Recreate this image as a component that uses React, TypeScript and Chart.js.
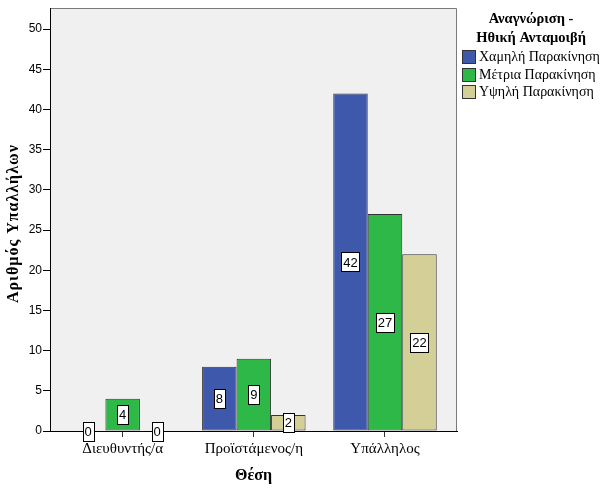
import React, { useEffect, useRef } from "react";
import { Chart, registerables } from "chart.js";

Chart.register(...registerables);

const categories = ["Διευθυντής/α", "Προϊστάμενος/η", "Υπάλληλος"];
const seriesNames = ["Χαμηλή Παρακίνηση", "Μέτρια Παρακίνηση", "Υψηλή Παρακίνηση"];
const lowValues = [0, 8, 42];
const mediumValues = [4, 9, 27];
const highValues = [0, 2, 22];
const yTickValues = [0, 5, 10, 15, 20, 25, 30, 35, 40, 45, 50];
const seriesColors = ["#3E58AC", "#2EB848", "#D4CE97"];
const legendTitle = ["Αναγνώριση -", "Ηθική Ανταμοιβή"];
const xTitle = "Θέση";
const yTitle = "Αριθμός Υπαλλήλων";

const SERIF = "'Liberation Serif', 'Times New Roman', serif";
const SANS = "'Liberation Sans', Arial, sans-serif";

const decorPlugin = {
  id: "decor",
  beforeDraw(chart: any) {
    const { ctx, chartArea: a } = chart;
    ctx.save();
    ctx.fillStyle = "#F0F0F0";
    ctx.fillRect(a.left, a.top, a.right - a.left, a.bottom - a.top);
    ctx.strokeStyle = "#7A7A7A";
    ctx.lineWidth = 1;
    ctx.beginPath();
    ctx.moveTo(a.left, Math.round(a.top) + 0.5);
    ctx.lineTo(Math.round(a.right) - 0.5, Math.round(a.top) + 0.5);
    ctx.lineTo(Math.round(a.right) - 0.5, a.bottom);
    ctx.stroke();
    ctx.restore();
  },
  afterDatasetsDraw(chart: any) {
    const { ctx } = chart;
    ctx.save();
    ctx.font = `13px ${SANS}`;
    ctx.textAlign = "center";
    ctx.textBaseline = "middle";
    chart.data.datasets.forEach((ds: any, di: number) => {
      const meta = chart.getDatasetMeta(di);
      meta.data.forEach((el: any, i: number) => {
        const v = ds.data[i].y;
        const txt = String(v);
        const tw = ctx.measureText(txt).width;
        const w = Math.round(tw + 4);
        const h = 19;
        const cx = el.x;
        const cy = (el.y + el.base) / 2;
        const x0 = Math.round(cx - w / 2) + 0.5;
        const y0 = Math.round(cy - h / 2) + 0.5;
        ctx.fillStyle = "#FFFFFF";
        ctx.fillRect(x0, y0, w, h);
        ctx.strokeStyle = "#000000";
        ctx.lineWidth = 1;
        ctx.strokeRect(x0, y0, w, h);
        ctx.fillStyle = "#000000";
        ctx.fillText(txt, cx, cy + 1);
      });
    });
    ctx.restore();
  },
  afterDraw(chart: any) {
    const { ctx, chartArea: a } = chart;
    ctx.save();
    ctx.fillStyle = "#000000";
    // axis titles
    ctx.font = `bold 16px ${SERIF}`;
    ctx.textAlign = "center";
    ctx.textBaseline = "middle";
    ctx.fillText(xTitle, (a.left + a.right) / 2, 476);
    ctx.save();
    ctx.translate(14, (a.top + a.bottom) / 2 + 4);
    ctx.rotate(-Math.PI / 2);
    try { (ctx as any).letterSpacing = "1px"; } catch (e) {}
    ctx.fillText(yTitle, 0, 0);
    ctx.restore();
    // legend
    ctx.textBaseline = "alphabetic";
    ctx.font = `bold 14.5px ${SERIF}`;
    ctx.fillText(legendTitle[0], 531, 23);
    ctx.fillText(legendTitle[1], 531, 42);
    ctx.font = `14px ${SERIF}`;
    ctx.textAlign = "left";
    ctx.textBaseline = "middle";
    seriesNames.forEach((name, i) => {
      const y = 50 + i * 17.7;
      const ys = Math.round(y) + 0.5;
      ctx.fillStyle = seriesColors[i];
      ctx.fillRect(462.5, ys, 13, 13);
      ctx.strokeStyle = "#333333";
      ctx.strokeRect(462.5, ys, 13, 13);
      ctx.fillStyle = "#000000";
      ctx.fillText(name, 479, ys + 7);
    });
    ctx.restore();
  },
};

export default function App() {
  const ref = useRef<HTMLCanvasElement | null>(null);
  useEffect(() => {
    if (!ref.current) return;
    const valueSets = [lowValues, mediumValues, highValues];
    const chart = new Chart(ref.current, {
      type: "bar",
      data: {
        datasets: seriesNames.map((name, s) => ({
          label: name,
          data: categories.map((_, i) => ({ x: i, y: valueSets[s][i] })),
          backgroundColor: seriesColors[s],
          borderColor: "#333333",
          borderWidth: 1,
          borderSkipped: false,
          barPercentage: 1,
          categoryPercentage: 0.789,
        })),
      },
      options: {
        responsive: false,
        animation: false,
        layout: { padding: { left: 0, top: 2, right: 152, bottom: 0 } },
        plugins: {
          legend: { display: false },
          tooltip: { enabled: false },
        },
        scales: {
          x: {
            type: "linear",
            offset: false,
            min: -0.554,
            max: 2.549,
            afterBuildTicks: (scale: any) => {
              scale.ticks = categories.map((_, i) => ({ value: i }));
            },
            afterFit: (scale: any) => {
              scale.height = 58;
            },
            ticks: {
              autoSkip: false,
              maxRotation: 0,
              minRotation: 0,
              padding: 3,
              color: "#000000",
              font: { family: SERIF, size: 15 },
              callback: (v: any) => categories[Math.round(Number(v))] ?? "",
            },
            grid: {
              offset: false,
              drawOnChartArea: false,
              drawTicks: true,
              tickLength: 6,
              color: "#333333",
            },
            border: { display: true, color: "#000000", width: 1 },
          },
          y: {
            type: "linear",
            min: 0,
            max: 52.6,
            afterBuildTicks: (scale: any) => {
              scale.ticks = yTickValues.map((v) => ({ value: v }));
            },
            afterFit: (scale: any) => {
              scale.width = 50;
            },
            ticks: {
              padding: 1,
              color: "#000000",
              font: { family: SANS, size: 12 },
            },
            grid: {
              drawOnChartArea: false,
              drawTicks: true,
              tickLength: 7,
              color: "#000000",
            },
            border: { display: true, color: "#000000", width: 1 },
          },
        },
      },
      plugins: [decorPlugin],
    } as any);
    return () => chart.destroy();
  }, []);
  return (
    <div style={{ position: "absolute", left: 0, top: 0, width: 609, height: 489, background: "#FFFFFF" }}>
      <canvas ref={ref} width={609} height={489} style={{ display: "block" }} />
    </div>
  );
}
